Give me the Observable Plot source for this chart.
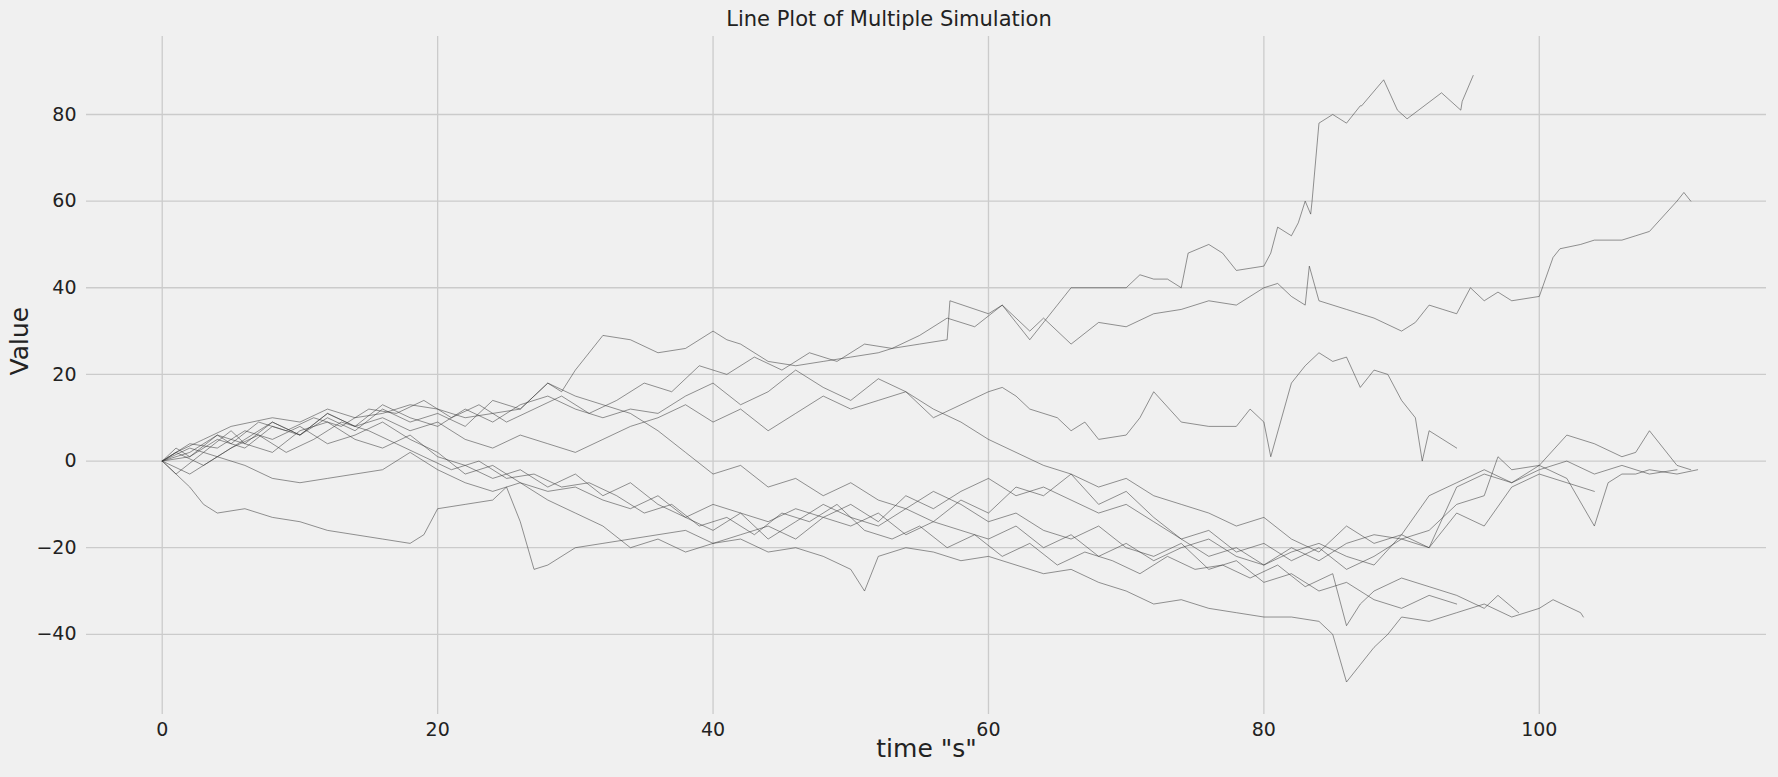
<!DOCTYPE html>
<html>
<head>
<meta charset="utf-8">
<script src="https://cdn.jsdelivr.net/npm/d3@7"></script>
<script src="https://cdn.jsdelivr.net/npm/@observablehq/plot@0.6"></script>
<style>
  body { margin: 0; background: #f0f0f0; font-family: "DejaVu Sans", sans-serif; }
  #title { height: 36px; line-height: 38px; text-align: center; font-size: 21px; color: #222; }
</style>
</head>
<body>
<div id="title">Line Plot of Multiple Simulation</div>
<div id="chart"></div>
<script>
// simulation runs
const s1x = [0,1,3,5,8,10,12,14,16,18,20,22,24,26,28,29,30,32,34,36,38,40,41,42,44,46,48,50,52,53,55,57,57.2,60,61,62,63,65,65.5,66,70,71,72,73,74,74.5,76,77,78,80,80.5,81,82,82.5,83,83.4,83.5,84,85,86,87,87.1,88.7,89.7,90.4,92.9,94.3,94.4,95.2];
const s1y = [0,2,5,8,10,9,12,10,11,13,12,10,11,12,18,16,21,29,28,25,26,30,28,27,23,22,23,24,25,26,27,28,37,34,36,32,28,36,38,40,40,43,42,42,40,48,50,48,44,45,48,54,52,55,60,57,60,78,80,78,82,82,88,81,79,85,81,83,89,91];
const s2x = [0,1,2,4,5,7,9,11,13,15,17,19,21,23,25,27,29,31,33,35,37,39,41,43,45,47,49,51,53,55,57,59,61,63,64,66,68,70,72,74,76,78,80,81,82,83,83.3,84,86,88,90,91,92,93,94,95,96,97,98,100,101,101.5,103,104,106,107,108,110,110.5,111];
const s2y = [0,3,1,6,4,9,7,10,8,12,11,14,10,13,9,12,15,11,14,18,16,22,20,24,21,25,23,27,26,29,33,31,36,30,33,27,32,31,34,35,37,36,40,41,38,36,45,37,35,33,30,32,36,35,34,40,37,39,37,38,47,49,50,51,51,52,53,60,62,60];
const s3x = [0,1,3,5,6,8,10,12,14,16,18,20,22,24,26,28,30,32,34,36,38,40,42,44,46,48,50,52,54,56,58,60,61,62,63,65,66,67,68,70,71,72,74,76,78,79,80,80.5,82,83,84,85,86,87,88,89,90,91,91.5,92,93,94];
const s3y = [0,-3,2,7,4,9,6,11,8,10,7,9,5,3,6,4,2,5,8,10,13,9,12,7,11,15,12,14,16,10,13,16,17,15,12,10,7,9,5,6,10,16,9,8,8,12,9,1,18,22,25,23,24,17,21,20,14,10,0,7,5,3];
const s4x = [0,2,4,6,8,10,12,14,16,18,20,22,24,26,28,30,32,34,36,38,40,42,44,46,48,50,52,54,56,58,60,62,64,66,68,70,72,74,76,78,80,82,84,86,88,90,92,94,96,97,98,100,102,104,105,106,107,108,110,111.5];
const s4y = [0,4,3,7,5,8,4,6,9,5,2,-3,-1,-5,-7,-6,-9,-11,-8,-13,-10,-12,-14,-11,-13,-15,-12,-17,-14,-16,-18,-15,-20,-17,-22,-19,-23,-20,-18,-22,-24,-20,-23,-19,-17,-18,-16,-10,-8,1,-2,-1,-4,-15,-5,-3,-3,-2,-3,-2];
const s5x = [0,2,3,4,6,8,10,12,14,16,18,19,20,22,24,25,26,27,28,30,32,34,36,38,40,42,44,46,48,50,51,52,54,56,58,60,62,64,66,68,70,72,74,76,78,80,82,84,85,86,87,88,89,90,92,94,96,98,100,101,103,103.2];
const s5y = [0,-6,-10,-12,-11,-13,-14,-16,-17,-18,-19,-17,-11,-10,-9,-6,-14,-25,-24,-20,-19,-18,-17,-16,-19,-18,-21,-20,-22,-25,-30,-22,-20,-21,-23,-22,-24,-26,-25,-28,-30,-33,-32,-34,-35,-36,-36,-37,-40,-51,-47,-43,-40,-36,-37,-35,-33,-36,-34,-32,-35,-36];
const s6x = [0,1,3,5,7,9,11,13,15,17,19,21,23,25,27,29,31,33,35,37,39,41,43,45,47,49,51,53,55,57,59,61,63,65,67,69,71,73,75,77,79,81,83,85,86,87,88,90,92,94,96,97,98.5];
const s6y = [0,2,-1,3,6,2,5,9,7,4,1,-2,0,-4,-3,-6,-5,-8,-12,-10,-15,-13,-17,-12,-14,-10,-16,-18,-15,-20,-17,-22,-19,-24,-21,-23,-26,-22,-25,-24,-27,-24,-29,-26,-38,-33,-30,-27,-29,-31,-34,-31,-35];
const s7x = [0,2,4,6,8,10,12,14,16,18,20,22,24,26,28,30,32,34,36,38,40,42,44,46,48,50,52,54,56,58,60,62,64,66,68,70,72,74,76,78,80,82,84,86,88,90,92,94];
const s7y = [0,1,5,3,8,6,10,7,12,9,11,8,14,12,18,15,13,11,7,2,-3,-1,-6,-4,-8,-5,-9,-11,-7,-10,-14,-12,-16,-18,-15,-20,-22,-19,-25,-23,-28,-26,-30,-28,-32,-34,-31,-33];
const s8x = [0,2,4,6,8,10,12,14,16,18,20,22,24,26,28,30,32,34,36,38,40,42,44,46,48,50,52,54,56,58,60,62,64,66,68,70,72,74,76,78,80,82,84,86,88,90,92,94,96,98,100,102,104,106,107,108,109,110,111];
const s8y = [0,3,1,5,9,6,11,8,13,10,8,12,9,13,15,12,10,12,11,15,18,13,16,21,17,14,19,16,12,9,5,2,-1,-3,-6,-4,-8,-10,-12,-15,-13,-18,-21,-15,-19,-17,-8,-5,-2,-5,-1,6,4,1,2,7,3,-1,-2];
const s9x = [0,2,4,6,8,10,12,14,16,18,20,22,24,26,28,30,32,34,36,38,40,42,44,46,48,50,52,54,56,58,60,62,64,66,68,70,72,74,76,78,80,82,84,86,88,90,92,94,96,98,100,102,104,106,108,110];
const s9y = [0,2,6,4,2,7,9,5,3,6,1,-1,-4,-2,-6,-3,-8,-5,-10,-13,-16,-12,-18,-14,-10,-13,-15,-11,-14,-9,-12,-6,-8,-3,-10,-7,-13,-18,-16,-21,-19,-23,-20,-25,-22,-18,-20,-6,-3,-5,-2,0,-3,-1,-3,-2];
const s10x = [0,2,4,6,8,10,12,14,16,18,20,22,24,26,28,30,32,34,36,38,40,42,44,46,48,50,52,54,56,58,60,62,64,66,68,70,72,74,76,78,80,82,84,86,88,90,92,94,96,98,100,102,104];
const s10y = [0,-3,1,-1,-4,-5,-4,-3,-2,2,-2,-5,-7,-5,-9,-12,-15,-20,-18,-21,-19,-17,-15,-18,-13,-10,-14,-8,-11,-7,-4,-8,-6,-9,-12,-10,-14,-18,-22,-20,-24,-21,-19,-22,-24,-17,-20,-12,-15,-6,-3,-5,-7];

const runs = [[s1x,s1y],[s2x,s2y],[s3x,s3y],[s4x,s4y],[s5x,s5y],[s6x,s6y],[s7x,s7y],[s8x,s8y],[s9x,s9y],[s10x,s10y]];
const rows = runs.flatMap(([xs, ys], k) => xs.map((t, i) => ({run: k, t, v: ys[i]})));

const minus = d => String(d).replace("-", "\u2212");

const chart = Plot.plot({
  width: 1778,
  height: 741,
  marginTop: 0,
  marginLeft: 86,
  marginRight: 12,
  marginBottom: 63,
  style: {background: "#f0f0f0", fontFamily: "DejaVu Sans, sans-serif", fontSize: "19px", color: "#222"},
  x: {domain: [-5.5, 116.5]},
  y: {domain: [-58.5, 98]},
  marks: [
    Plot.gridX({ticks: [0, 20, 40, 60, 80, 100], stroke: "#cbcbcb", strokeOpacity: 1, strokeWidth: 1.3}),
    Plot.gridY({ticks: [-40, -20, 0, 20, 40, 60, 80], stroke: "#cbcbcb", strokeOpacity: 1, strokeWidth: 1.3}),
    Plot.axisX({ticks: [0, 20, 40, 60, 80, 100], tickSize: 0, tickPadding: 8, label: null}),
    Plot.axisY({ticks: [-40, -20, 0, 20, 40, 60, 80], tickSize: 0, tickPadding: 10, label: null, tickFormat: minus}),
    Plot.line(rows, {x: "t", y: "v", z: "run", stroke: "#3a3a3a", strokeOpacity: 0.6, strokeWidth: 0.9}),
    Plot.text(['time "s"'], {frameAnchor: "bottom", dy: 42, fontSize: 25}),
    Plot.text(["Value"], {frameAnchor: "left", dx: -67, rotate: -90, fontSize: 25})
  ]
});
document.getElementById("chart").append(chart);
</script>
</body>
</html>
